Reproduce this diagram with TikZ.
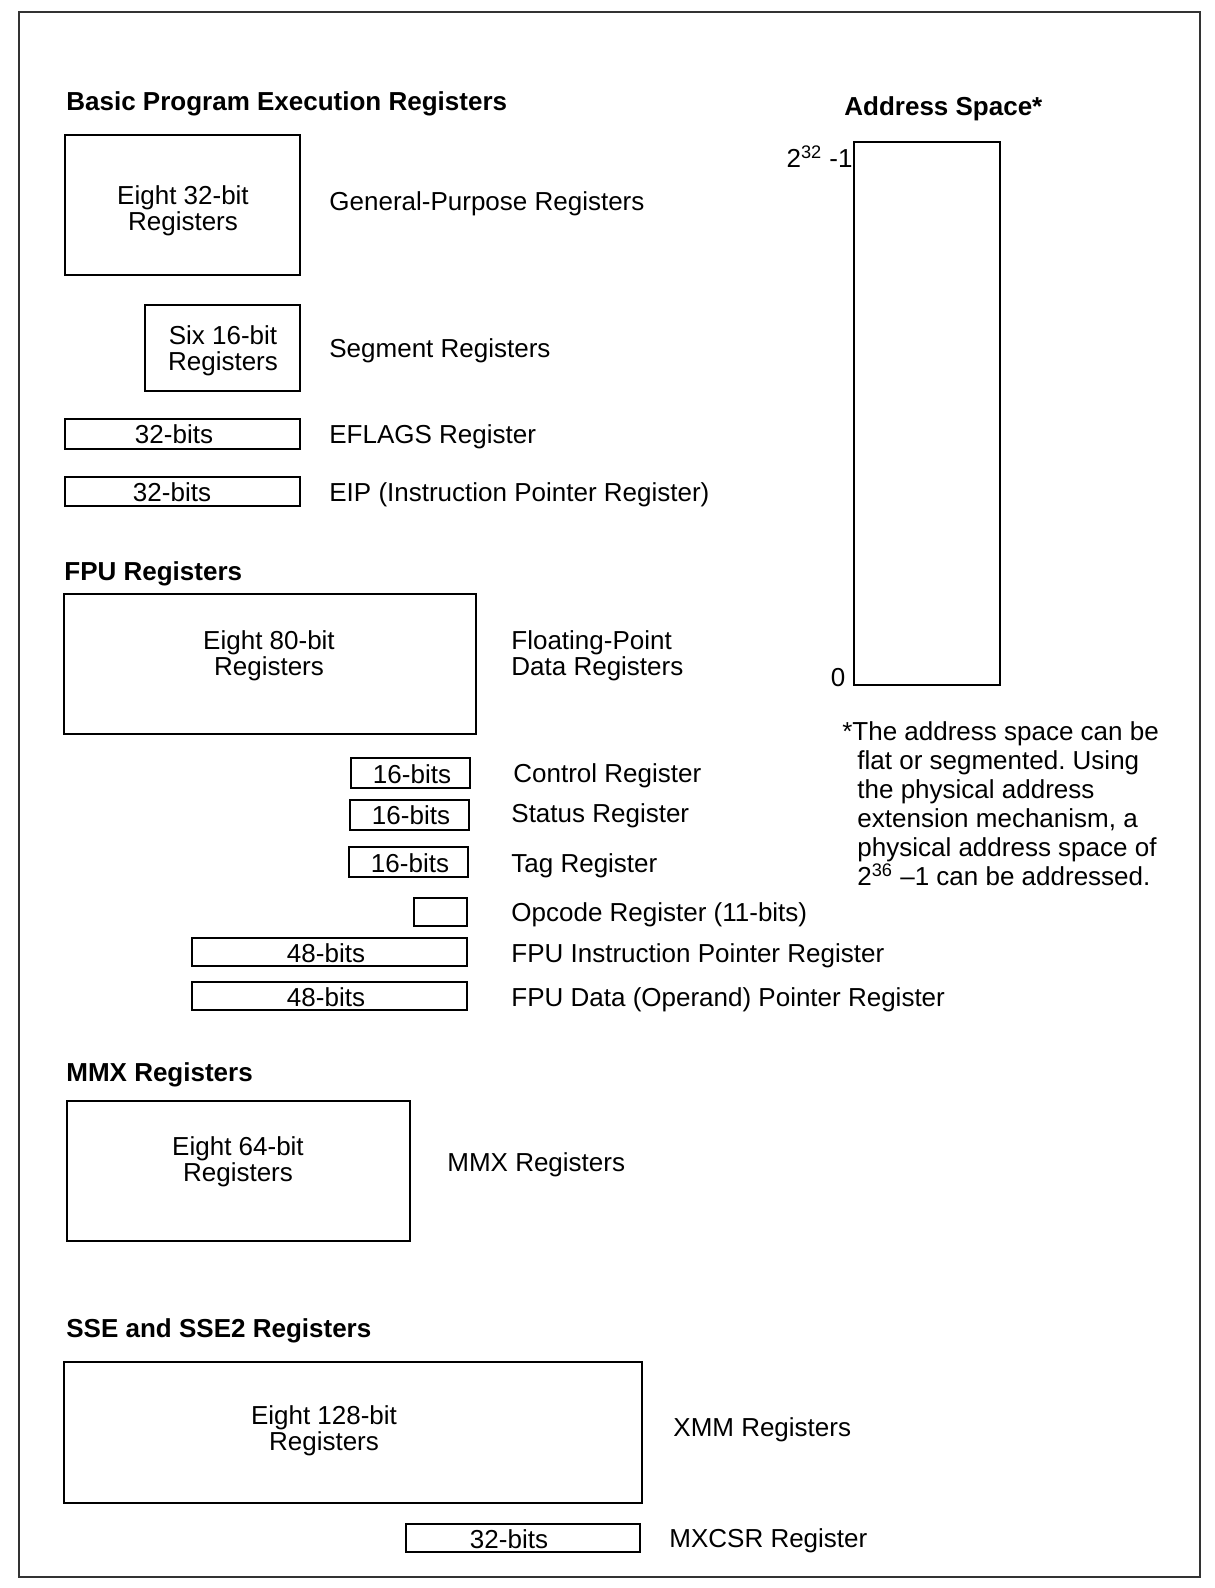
\documentclass[tikz,border=0pt]{standalone}
\usepackage{fontspec}
\setmainfont{Liberation Sans}
\usepackage{tikz}
\newcommand{\RegsTxt}{Registers}
\frenchspacing
\begin{document}
\begin{tikzpicture}[x=0.5pt,y=-0.5pt
        ,regbox/.style = {draw=black,line width=0.7pt,rectangle,inner sep=0pt}
        ,boxtext/.style = {inner sep=0pt,align=center,font=\fontsize{13}{13.2}\selectfont}
        ,bigtext/.style = {boxtext,yshift=-1pt}
        ,regname/.style = {inner sep=0pt,anchor=west,align=left,yshift=-1.5pt,font=\fontsize{13}{13.2}\selectfont}
        ,legend/.style = {inner sep=0pt,anchor=west,yshift=-1.5pt,font=\fontsize{13}{15}\selectfont\bfseries}
      ]
      \useasboundingbox (0,0) rectangle (1214,1588);
      \draw[line width=1pt,black!80] (19,12) rectangle (1200,1577);

      % basic program execution registers
      \node[legend](basic) at (66,101) {Basic Program Execution Registers};
      \node[regbox,minimum width=117.5pt,minimum height=70pt](gpr) at (182.5,205) {};
      \node[bigtext] at (183,209) {Eight 32-bit\\\RegsTxt};
      \node[regname](gprname) at (329,201) {General-Purpose Registers};
      \node[regbox,minimum width=77.5pt,minimum height=43pt](seg) at (222.5,348) {};
      \node[bigtext] at (223,349) {Six 16-bit\\\RegsTxt};
      \node[regname](segname) at (329,348) {Segment Registers};
      \node[regbox,minimum width=117.5pt,minimum height=15pt](eflags) at (182.5,434) {};
      \node[boxtext] at (174,434) {32-bits};
      \node[regname](eflagsname) at (329,434) {EFLAGS Register};
      \node[regbox,minimum width=117.5pt,minimum height=14.5pt](eip) at (182.5,491.5) {};
      \node[boxtext] at (172,492) {32-bits};
      \node[regname](eipname) at (329,492) {EIP (Instruction Pointer Register)};

      % FPU registers
      \node[legend](fpuleg) at (64,571) {FPU Registers};
      \node[regbox,minimum width=206pt,minimum height=70pt](fpu) at (270,664) {};
      \node[bigtext] at (269,654) {Eight 80-bit\\\RegsTxt};
      \node[regname](fpuname) at (511,653) {Floating-Point\\Data Registers};
      \node[regbox,minimum width=59.5pt,minimum height=15pt](ctrl) at (410.5,773) {};
      \node[boxtext] at (412,774) {16-bits};
      \node[regname](ctrlname) at (513,773) {Control Register};
      \node[regbox,minimum width=59.5pt,minimum height=15pt](status) at (409.5,815) {};
      \node[boxtext] at (411,815) {16-bits};
      \node[regname](statusname) at (511,813) {Status Register};
      \node[regbox,minimum width=59.5pt,minimum height=15pt](tag) at (408.5,862) {};
      \node[boxtext] at (410,863) {16-bits};
      \node[regname](tagname) at (511,863) {Tag Register};
      \node[regbox,minimum width=26.5pt,minimum height=14pt](opcode) at (440.5,912) {};
      \node[regname](opcodename) at (511,912) {Opcode Register (11-bits)};
      \node[regbox,minimum width=137.5pt,minimum height=14pt](fip) at (329.5,952) {};
      \node[boxtext] at (326,953) {48-bits};
      \node[regname](fipname) at (511,953) {FPU Instruction Pointer Register};
      \node[regbox,minimum width=137.5pt,minimum height=14pt](fdp) at (329.5,996) {};
      \node[boxtext] at (326,997) {48-bits};
      \node[regname](fdpname) at (511,997) {FPU Data (Operand) Pointer Register};

      % MMX registers
      \node[legend](mmxleg) at (66,1072) {MMX Registers};
      \node[regbox,minimum width=171.5pt,minimum height=70pt](mmx) at (238.5,1171) {};
      \node[bigtext] at (238,1160) {Eight 64-bit\\\RegsTxt};
      \node[regname](mmxname) at (447,1162) {MMX Registers};

      % SSE and SSE2 registers
      \node[legend](sseleg) at (66,1328) {SSE and SSE2 Registers};
      \node[regbox,minimum width=289pt,minimum height=70.5pt](xmm) at (353,1432.5) {};
      \node[bigtext] at (324,1428.5) {Eight 128-bit\\\RegsTxt};
      \node[regname](xmmname) at (673,1427) {XMM Registers};
      \node[regbox,minimum width=117pt,minimum height=14pt](mxcsr) at (523,1538) {};
      \node[boxtext] at (509,1539) {32-bits};
      \node[regname](mxcsrname) at (669,1538) {MXCSR Register};

      % address space
      \node[legend](addrleg) at (844,106) {Address Space*};
      \node[regbox,minimum width=73pt,minimum height=271.5pt](addr) at (927,413.5) {};
      \node[boxtext,anchor=east](top) at (853,157) {2\textsuperscript{32} -1};
      \node[boxtext](bottom) at (838,678) {0};
      \node[regname,anchor=north west,font=\fontsize{13}{14.5}\selectfont](note) at (857,718)
        {\hspace*{-2.5pt}\llap{*}The address space can be\\flat or segmented. Using\\the physical address\\extension mechanism, a\\physical address space of\\2\textsuperscript{36} --1 can be addressed.};
    \end{tikzpicture}
\end{document}
